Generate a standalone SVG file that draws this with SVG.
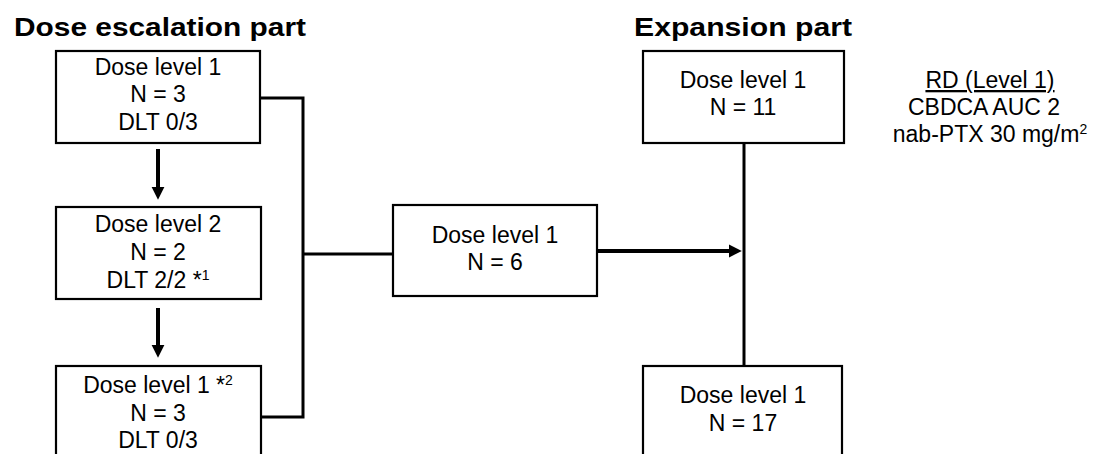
<svg xmlns="http://www.w3.org/2000/svg" width="1112" height="454" viewBox="0 0 1112 454">
<defs>
<style>
.box{fill:#fff;stroke:#000;stroke-width:2.2}
.t{font-family:"Liberation Sans",Arial,sans-serif;font-size:23px;fill:#000;text-anchor:middle}
.h{font-family:"Liberation Sans",Arial,sans-serif;font-size:26px;font-weight:bold;fill:#000}
.c{fill:none;stroke:#000;stroke-width:3}
.a{fill:none;stroke:#000;stroke-width:4}
.sup{font-size:14px}
</style>
<marker id="ah" viewBox="0 0 10 10" refX="0" refY="5" markerWidth="3.2" markerHeight="3.3" orient="auto" markerUnits="strokeWidth">
<path d="M0,0 L10,5 L0,10 z" fill="#000"/>
</marker>
</defs>
<rect width="1112" height="454" fill="#fff"/>
<text class="h" x="14" y="36" textLength="292" lengthAdjust="spacingAndGlyphs">Dose escalation part</text>
<text class="h" x="634" y="36" textLength="218" lengthAdjust="spacingAndGlyphs">Expansion part</text>
<g id="connectors">
<polyline class="c" points="260,98 303,98 303,417 261,417"/>
<line class="c" x1="303" y1="254" x2="393" y2="254"/>
<line class="a" x1="158" y1="149" x2="158" y2="187" marker-end="url(#ah)"/>
<line class="a" x1="158" y1="308" x2="158" y2="345" marker-end="url(#ah)"/>
<line class="a" x1="597" y1="251" x2="729" y2="251" marker-end="url(#ah)"/>
<line class="c" x1="744" y1="143" x2="744" y2="366"/>
</g>
<g id="esc1">
<rect class="box" x="56" y="51" width="204" height="92"/>
<text class="t" x="158" y="75">Dose level 1</text>
<text class="t" x="158" y="102">N = 3</text>
<text class="t" x="158" y="130">DLT 0/3</text>
</g>
<g id="esc2">
<rect class="box" x="56" y="207" width="205" height="92"/>
<text class="t" x="158" y="232">Dose level 2</text>
<text class="t" x="158" y="260">N = 2</text>
<text class="t" x="158" y="288">DLT 2/2 *<tspan class="sup" dy="-8">1</tspan></text>
</g>
<g id="esc3">
<rect class="box" x="56" y="366" width="205" height="100"/>
<text class="t" x="158" y="393">Dose level 1 *<tspan class="sup" dy="-8">2</tspan></text>
<text class="t" x="158" y="421">N = 3</text>
<text class="t" x="158" y="448">DLT 0/3</text>
</g>
<g id="mid">
<rect class="box" x="393" y="205" width="204" height="91"/>
<text class="t" x="495" y="243">Dose level 1</text>
<text class="t" x="495" y="270">N = 6</text>
</g>
<g id="exp1">
<rect class="box" x="643" y="51" width="201" height="92"/>
<text class="t" x="743" y="88">Dose level 1</text>
<text class="t" x="743" y="115">N = 11</text>
</g>
<g id="exp2">
<rect class="box" x="643" y="366" width="199" height="100"/>
<text class="t" x="743" y="403">Dose level 1</text>
<text class="t" x="743" y="431">N = 17</text>
</g>
<g id="rd">
<text class="t" x="990" y="88" text-decoration="underline">RD (Level 1)</text>
<text class="t" x="984" y="115">CBDCA AUC 2</text>
<text class="t" x="990" y="142">nab-PTX 30 mg/m<tspan class="sup" dy="-8">2</tspan></text>
</g>
</svg>
